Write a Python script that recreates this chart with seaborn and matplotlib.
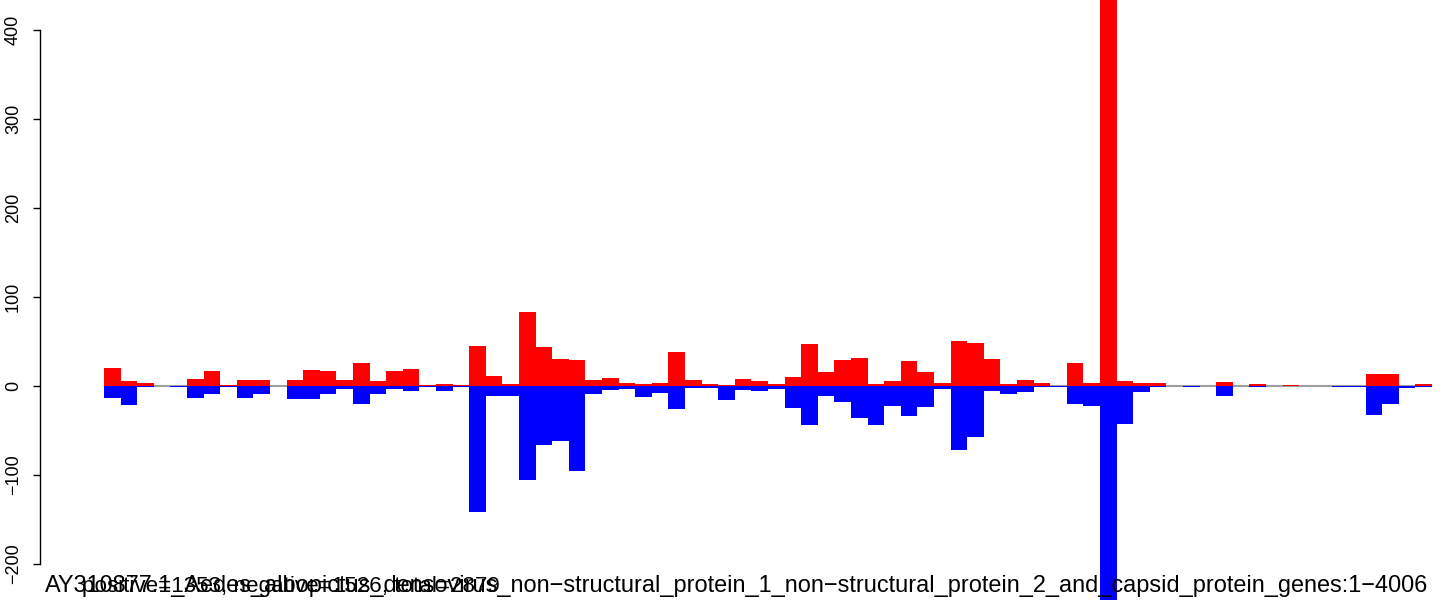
import numpy as np
import pandas as pd
import matplotlib
matplotlib.use("Agg")
import matplotlib.pyplot as plt
import seaborn as sns

# strand coverage per 50 bp bin
bin_size = 50
positive = [20, 6, 3.4, 0, 0, 8, 17, 1, 6.7, 6.7,
            0, 6.7, 18, 17, 6.7, 26, 5.6, 17, 19, 1,
            2.2, 1, 45, 11, 2.2, 83, 44, 30, 29, 6.7,
            9, 3.4, 2.2, 3.4, 38, 6.7, 2.2, 1, 8, 5.6,
            2.2, 10, 47, 16, 29, 31.5, 2.2, 5.6, 28, 16,
            3.4, 50.6, 48, 30, 2.2, 6.7, 3.4, 0, 26, 3.4,
            480, 5.6, 3.4, 3.4, 0, 0, 0, 4.5, 0, 2.2,
            0, 1, 0, 0, 0, 0, 13.5, 13.5, 0, 2.2]
negative = [-13.5, -21, -1, 0, -1, -13.5, -9, -1, -13.5, -9,
            -0.5, -14.6, -14.6, -9, -3.4, -20, -9, -3.4, -5.6, -1,
            -5.6, -1, -141.6, -11.2, -11.2, -105.6, -66, -61.8, -95.5, -9,
            -4.5, -3.4, -12.4, -7.9, -25.8, -2.2, -2.2, -15.7, -4.5, -5.6,
            -3.4, -24.7, -43.8, -11.2, -18, -36, -43.8, -22.5, -33.7, -23.6,
            -3.4, -71.9, -57.3, -5.6, -9, -6.7, -1, -1, -20, -22.5,
            -240, -42.7, -6.7, -1, 0, -1, 0, -11.2, 0, -1,
            0, 0, 0, 0, -1, -1, -32.6, -20, -2, -1]
y_ticks = [-200, -100, 0, 100, 200, 300, 400]
seq_label = ("AY310877.1_Aedes_albopictus_densovirus_non\u2212structural_protein_1_"
             "non\u2212structural_protein_2_and_capsid_protein_genes:1\u22124006")
count_label = "positive=1353, negative=1526, total=2879"

sns.set_style("white")
plt.rcParams['font.family'] = ['Liberation Sans', 'DejaVu Sans']
plt.rcParams['text.color'] = 'black'
plt.rcParams['ytick.color'] = 'black'

df = pd.DataFrame({
    'center': np.arange(len(positive)) * bin_size + bin_size / 2,
    'positive': positive,
    'negative': negative,
})

W, H = 1444, 607
fig = plt.figure(figsize=(W / 100, H / 100), dpi=100)
ax = fig.add_axes([40 / W, 0, (W - 40) / W, 1])

# grey baseline under the bars
ax.hlines(0, 0, len(positive) * bin_size, color='#9e9e9e', lw=1.5, zorder=1)

sns.barplot(data=df, x='center', y='positive', native_scale=True, orient='x',
            width=1, color='#ff0000', saturation=1, errorbar=None,
            linewidth=0, ax=ax, zorder=2)
sns.barplot(data=df, x='center', y='negative', native_scale=True, orient='x',
            width=1, color='#0000ff', saturation=1, errorbar=None,
            linewidth=0, ax=ax, zorder=2)
for p in ax.patches:
    p.set_antialiased(False)

px_per_bp = 16.6 / bin_size
ax.set_xlim((40 - 104) / px_per_bp, (W - 104) / px_per_bp)
ax.set_ylim((386 - H) / 0.89, 386 / 0.89)

ax.set_xticks([])
ax.set_xlabel('')
ax.set_ylabel('')
ax.set_yticks(y_ticks)
ax.set_yticklabels([str(v).replace('-', '\u2212') for v in y_ticks],
                   rotation=90, va='center', color='black')
ax.tick_params(axis='y', length=5, width=1, pad=8, labelsize=13,
               color='black', left=True)
for s in ['top', 'right', 'bottom']:
    ax.spines[s].set_visible(False)
ax.spines['left'].set_bounds(-200, 400)
ax.spines['left'].set_linewidth(1)
ax.spines['left'].set_color('black')

# footer texts, overlapping like in the original
fs = 15
x1, x2 = 45, 1435
t1 = fig.text(x1 / W, (H - 592) / H, seq_label, fontsize=fs, va='baseline',
              color='black', zorder=5)
t2 = fig.text(82 / W, (H - 592) / H, count_label, fontsize=fs, va='baseline',
              color='black', zorder=5)
fig.canvas.draw()
w1 = t1.get_window_extent(fig.canvas.get_renderer()).width
fs = fs * (x2 - x1) / w1
t1.set_fontsize(fs)
t2.set_fontsize(fs * 0.95)

fig.savefig('out.png', dpi=100)
